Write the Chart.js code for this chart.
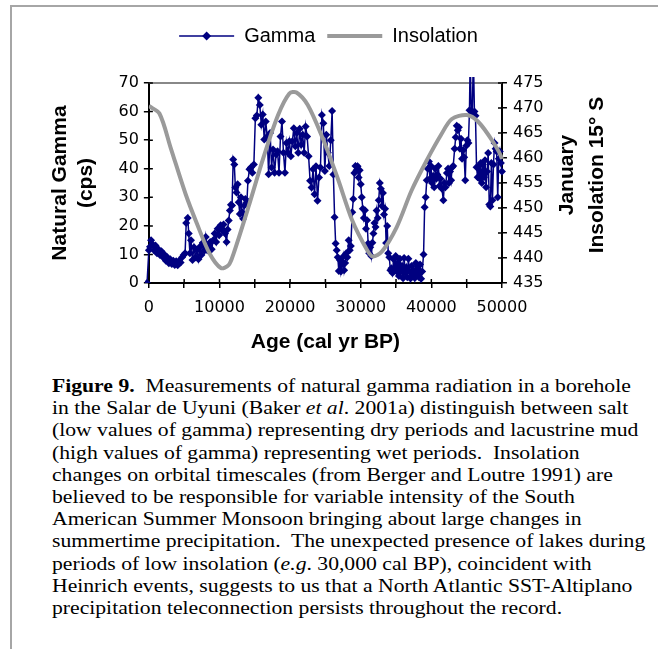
<!DOCTYPE html>
<html>
<head>
<meta charset="utf-8">
<title>Figure 9</title>
<script src="https://cdn.jsdelivr.net/npm/chart.js@4.4.1/dist/chart.umd.min.js"></script>
<style>
  html, body { margin: 0; padding: 0; background: #fff; }
  body { width: 658px; height: 649px; position: relative; overflow: hidden; }
  #frame { position: absolute; left: 10px; top: 5px; width: 660px; height: 660px;
           border-top: 2px solid #a6a6a6; border-left: 2px solid #a6a6a6; }
  #chartBox { position: absolute; left: 0; top: 0; width: 658px; height: 365px; }
  #caption { position: absolute; left: 52px; top: 375px; font-family: "Liberation Serif", "Times New Roman", serif;
             font-size: 19px; line-height: 22.2px; color: #000; white-space: nowrap;
             transform: scaleX(1.14); transform-origin: 0 0; }
</style>
</head>
<body>
<div id="frame"></div>
<div id="chartBox"><canvas id="gammaChart" width="658" height="365"></canvas></div>
<div id="caption">
  <b>Figure 9.</b>&nbsp; Measurements of natural gamma radiation in a borehole<br>
  in the Salar de Uyuni (Baker <i>et al</i>. 2001a) distinguish between salt<br>
  (low values of gamma) representing dry periods and lacustrine mud<br>
  (high values of gamma) representing wet periods.&nbsp; Insolation<br>
  changes on orbital timescales (from Berger and Loutre 1991) are<br>
  believed to be responsible for variable intensity of the South<br>
  American Summer Monsoon bringing about large changes in<br>
  summertime precipitation.&nbsp; The unexpected presence of lakes during<br>
  periods of low insolation (<i>e.g</i>. 30,000 cal BP), coincident with<br>
  Heinrich events, suggests to us that a North Atlantic SST-Altiplano<br>
  precipitation teleconnection persists throughout the record.
</div>
<script>
// data
const gammaAge = [
  -260, 0, 160, 310, 520, 730, 940, 1150, 1360, 1570, 1780, 1990, 2200, 2410, 2620, 2830, 3040, 3250, 3460, 3670,
  3870, 4080, 4290, 4500, 4710, 4920, 5130, 5290, 5500, 5650, 5810, 5970, 6180, 6390, 6600, 6810, 7020, 7230, 7440, 7640,
  7850, 8060, 8270, 8480, 8690, 8900, 9110, 9320, 9530, 9740, 9950, 10160, 10370, 10580, 10790, 11000, 11150, 11310, 11470, 11620,
  11780, 11940, 12100, 12250, 12410, 12570, 12720, 12880, 13040, 13190, 13350, 13510, 13670, 13880, 14030, 14240, 14450, 14660, 14870, 15080,
  15290, 15500, 15710, 15920, 16130, 16340, 16550, 16760, 16960, 17170, 17380, 17590, 17800, 18010, 18220, 18430, 18640, 18850, 19060, 19270,
  19480, 19690, 19900, 20110, 20320, 20530, 20740, 20940, 21150, 21360, 21570, 21780, 21990, 22200, 22410, 22620, 22830, 23040, 23250, 23460,
  23670, 23880, 24090, 24300, 24500, 24710, 24920, 25130, 25340, 25550, 25760, 25950, 26130, 26300, 26450, 26600, 26750, 26900, 27050, 27200,
  27350, 27500, 27650, 27800, 27950, 28100, 28300, 28450, 28600, 28800, 28950, 29100, 29250, 29400, 29550, 29700, 29850, 30000, 30150, 30300,
  30450, 30600, 30750, 30900, 31050, 31200, 31350, 31500, 31650, 31800, 31950, 32100, 32250, 32400, 32550, 32700, 32850, 33000, 33150, 33300,
  33450, 33600, 33750, 33900, 34050, 34200, 34350, 34500, 34650, 34800, 34950, 35100, 35250, 35400, 35550, 35700, 35850, 36000, 36150, 36300,
  36450, 36600, 36750, 36900, 37050, 37200, 37350, 37500, 37650, 37800, 37950, 38100, 38250, 38400, 38550, 38700, 38900, 39050, 39200, 39350,
  39500, 39650, 39800, 39950, 40100, 40250, 40400, 40550, 40700, 40850, 41000, 41150, 41300, 41500, 41700, 41850, 42000, 42200, 42350, 42500,
  42650, 42800, 42950, 43100, 43300, 43450, 43600, 43750, 43900, 44050, 44200, 44350, 44500, 44650, 44800, 44950, 45100, 45250, 45400, 45500,
  45650, 45800, 45950, 46100, 46250, 46400, 46550, 46700, 46850, 47000, 47150, 47300, 47450, 47600, 47750, 47900, 48050, 48200, 48350, 48500,
  48650, 48800, 48950, 49100, 49250, 49400, 49550, 49700, 49850, 50000, 50200, 50400
];
const gammaCps = [
  0, 11.5, 12.7, 15.0, 13.6, 11.5, 13.1, 10.4, 11.8, 9.8, 11.1, 9.0, 10.0, 7.8, 9.0, 6.9, 8.3, 6.7, 7.8, 6.3,
  7.6, 6.2, 7.8, 7.2, 9.0, 9.8, 10.4, 21.0, 22.8, 17.3, 10.4, 15.0, 8.1, 12.5, 9.0, 11.5, 8.3, 12.7, 9.8, 14.1,
  11.3, 16.1, 11.5, 13.1, 14.4, 11.8, 15.0, 17.3, 14.4, 19.0, 16.7, 20.2, 18.5, 20.5, 17.3, 14.4, 18.7, 21.9, 25.4, 27.4,
  27.1, 43.2, 41.5, 33.4, 31.7, 34.6, 28.3, 24.2, 30.0, 24.8, 22.5, 27.1, 29.4, 28.3, 35.8, 39.8, 40.4, 38.6, 41.5, 57.7,
  58.6, 64.8, 62.3, 55.4, 59.0, 50.2, 56.5, 51.3, 38.1, 52.5, 40.4, 46.7, 38.6, 45.0, 46.1, 38.6, 51.3, 56.5, 45.6, 38.6,
  49.0, 45.6, 49.6, 44.4, 49.6, 54.2, 47.9, 52.5, 45.6, 54.0, 48.4, 51.9, 45.6, 54.8, 51.3, 44.4, 35.8, 33.4, 39.8, 31.1,
  40.9, 28.8, 36.9, 40.4, 58.8, 55.9, 39.2, 51.9, 45.6, 41.0, 50.0, 60.2, 38.0, 23.0, 13.8, 11.5, 9.0, 4.2, 8.1, 4.0,
  6.5, 9.2, 4.5, 7.0, 10.4, 9.0, 15.0, 11.5, 13.0, 24.8, 29.4, 38.5, 41.0, 39.5, 40.9, 36.9, 39.5, 34.6, 30.0, 26.0,
  22.8, 25.5, 19.0, 22.0, 13.8, 10.4, 12.5, 9.5, 14.1, 17.3, 21.0, 19.6, 25.4, 22.8, 29.0, 35.0, 33.0, 27.0, 31.5, 24.0,
  26.0, 14.0, 20.0, 10.4, 9.0, 4.5, 5.2, 3.5, 8.3, 5.0, 9.5, 4.0, 7.0, 2.5, 8.5, 4.0, 6.0, 1.7, 8.8, 3.5,
  5.5, 2.0, 8.5, 4.0, 1.6, 6.0, 2.5, 4.5, 1.8, 7.0, 3.0, 5.8, 2.0, 6.5, 1.5, 4.0, 10.0, 26.5, 30.0, 36.0,
  40.0, 42.5, 36.5, 41.0, 35.0, 37.5, 33.5, 40.0, 36.5, 38.0, 41.0, 34.0, 36.5, 33.0, 29.0, 35.0, 33.5, 38.5, 40.0, 35.0,
  39.0, 36.0, 40.5, 41.0, 47.0, 51.0, 55.0, 53.5, 54.5, 47.0, 50.5, 43.5, 46.5, 44.0, 36.0, 48.0, 50.0, 49.0, 60.5, 79.0,
  60.0, 59.0, 80.0, 60.0, 58.5, 40.5, 37.0, 41.0, 36.5, 42.0, 35.0, 41.5, 37.0, 43.0, 33.5, 39.0, 45.5, 27.5, 26.8, 42.0,
  29.0, 41.5, 49.0, 47.0, 46.0, 30.0, 43.5, 46.0, 42.0, 39.0, 36.0, 32.0
];
const insolationAge = [0, 1500, 3100, 5200, 6800, 8600, 10200, 11300, 12000, 14100, 16200, 18300, 19900, 20900, 22500,
  24600, 26700, 28800, 30900, 31700, 33000, 35100, 37200, 39300, 41400, 42900, 45000, 46600, 48700, 50000, 50800];
const insolationWm2 = [470.4, 468.9, 462.0, 452.8, 446.9, 440.9, 438.0, 438.6, 440.9, 450.2, 460.0, 468.6, 472.9, 473.1, 470.6,
  464.0, 456.1, 447.5, 441.6, 440.3, 441.3, 446.2, 453.5, 459.4, 464.7, 467.8, 468.6, 467.3, 463.3, 459.8, 452.5];

const seriesNames = ['Gamma', 'Insolation'];
const leftTitle = ['Natural Gamma', '(cps)'];
const rightTitle = ['January', 'Insolation 15\u00b0 S'];
const bottomTitle = 'Age (cal yr BP)';

const NAVY = '#000080';
const GREY = '#9a9a9a';
const AXIS_FONT = '"DejaVu Sans", sans-serif';
const TITLE_FONT = '"Liberation Sans", Arial, sans-serif';

function diamond(ctx, x, y, r) {
    ctx.beginPath();
    ctx.moveTo(x, y - r);
    ctx.lineTo(x + r, y);
    ctx.lineTo(x, y + r);
    ctx.lineTo(x - r, y);
    ctx.closePath();
    ctx.fill();
}

// push plot area down below the legend
const legendSpacer = {
    id: 'legendSpacer',
    beforeInit(chart) {
        const fit = chart.legend.fit;
        chart.legend.fit = function () {
            fit.call(this);
            this.height += 27;
        };
    }
};

// grey top frame + inward tick stubs
const axisExtras = {
    id: 'axisExtras',
    beforeDatasetsDraw(chart) {
        const { ctx, chartArea: a, scales } = chart;
        ctx.save();
        ctx.strokeStyle = '#888';
        ctx.lineWidth = 2;
        ctx.beginPath();
        ctx.moveTo(a.left, a.top);
        ctx.lineTo(a.right, a.top);
        ctx.stroke();

        ctx.strokeStyle = '#000';
        ctx.lineWidth = 1.5;
        ctx.beginPath();
        scales.x.ticks.forEach(t => {
            const px = scales.x.getPixelForValue(t.value);
            ctx.moveTo(px, a.bottom);
            ctx.lineTo(px, a.bottom - 4);
        });
        scales.y.ticks.forEach(t => {
            const py = scales.y.getPixelForValue(t.value);
            ctx.moveTo(a.left, py);
            ctx.lineTo(a.left + 4, py);
        });
        scales.y1.ticks.forEach(t => {
            const py = scales.y1.getPixelForValue(t.value);
            ctx.moveTo(a.right, py);
            ctx.lineTo(a.right - 4, py);
        });
        ctx.stroke();
        ctx.restore();
    },
    afterDraw(chart) {
        const { ctx, chartArea: a, legend } = chart;
        ctx.save();
        // legend samples: line with diamond, thick grey line
        legend.legendHitBoxes.forEach((box, i) => {
            const item = legend.legendItems[i];
            const y = box.top + box.height / 2;
            const w = legend.options.labels.boxWidth;
            ctx.beginPath();
            ctx.moveTo(box.left, y);
            ctx.lineTo(box.left + w, y);
            if (item.datasetIndex === 0) {
                ctx.strokeStyle = NAVY;
                ctx.lineWidth = 1.5;
                ctx.stroke();
                ctx.fillStyle = NAVY;
                diamond(ctx, box.left + w / 2, y, 4.5);
            } else {
                ctx.strokeStyle = GREY;
                ctx.lineWidth = 4;
                ctx.stroke();
            }
        });
        // right axis title, reading bottom to top
        const cy = (a.top + a.bottom) / 2 - 8;
        ctx.fillStyle = '#000';
        ctx.font = 'bold 21px ' + TITLE_FONT;
        ctx.textAlign = 'center';
        ctx.textBaseline = 'middle';
        [567, 597].forEach((x, i) => {
            ctx.save();
            ctx.translate(x, cy);
            ctx.rotate(-Math.PI / 2);
            ctx.fillText(rightTitle[i], 0, 0);
            ctx.restore();
        });
        ctx.restore();
    }
};

const gammaPoints = gammaAge.map((x, i) => ({ x: x, y: gammaCps[i] }));
const insolationPoints = insolationAge.map((x, i) => ({ x: x, y: insolationWm2[i] }));

const tickFont = { family: AXIS_FONT, size: 16 };
const titleFont = { family: TITLE_FONT, size: 21, weight: 'bold', lineHeight: 1.25 };

new Chart(document.getElementById('gammaChart'), {
    type: 'line',
    data: {
        datasets: [{
            label: seriesNames[0],
            data: gammaPoints,
            yAxisID: 'y',
            borderColor: NAVY,
            backgroundColor: NAVY,
            borderWidth: 1.5,
            pointStyle: 'rectRot',
            pointRadius: 4,
            pointBorderWidth: 0,
            pointBackgroundColor: NAVY,
            tension: 0,
            order: 1,
            clip: { left: 4, top: 6, right: 8, bottom: 0 }
        }, {
            label: seriesNames[1],
            data: insolationPoints,
            yAxisID: 'y1',
            borderColor: GREY,
            backgroundColor: GREY,
            borderWidth: 4,
            pointRadius: 0,
            tension: 0.3,
            order: 0,
            clip: { left: 0, top: 0, right: 8, bottom: 0 }
        }]
    },
    options: {
        responsive: false,
        animation: false,
        layout: { padding: { top: 14, left: 43, right: 44, bottom: 0 } },
        plugins: {
            tooltip: { enabled: false },
            legend: {
                position: 'top',
                labels: {
                    boxWidth: 55,
                    boxHeight: 4,
                    padding: 12,
                    color: '#000',
                    font: { family: TITLE_FONT, size: 20 },
                    sort: (a, b) => a.datasetIndex - b.datasetIndex,
                    generateLabels(chart) {
                        return Chart.defaults.plugins.legend.labels.generateLabels(chart).map(item =>
                            Object.assign(item, { fillStyle: 'rgba(0,0,0,0)', strokeStyle: 'rgba(0,0,0,0)', lineWidth: 0 }));
                    }
                }
            }
        },
        scales: {
            x: {
                type: 'linear',
                min: 0,
                max: 50000,
                border: { color: '#000', width: 2 },
                grid: { drawOnChartArea: false, color: '#000', lineWidth: 1.5, tickLength: 5 },
                ticks: {
                    stepSize: 5000,
                    autoSkip: false,
                    maxRotation: 0,
                    padding: 10,
                    color: '#000',
                    font: tickFont,
                    callback: v => (v % 10000 === 0 ? String(v) : '')
                },
                title: { display: true, text: bottomTitle, color: '#000', font: titleFont, padding: { top: 1.5, bottom: 10 } }
            },
            y: {
                position: 'left',
                min: 0,
                max: 70,
                border: { color: '#000', width: 2 },
                grid: { drawOnChartArea: false, color: '#000', lineWidth: 1.5, tickLength: 5 },
                ticks: { stepSize: 10, padding: 5, color: '#000', font: tickFont },
                title: { display: true, text: leftTitle, color: '#000', font: titleFont, padding: { top: 4, bottom: 14 } }
            },
            y1: {
                position: 'right',
                min: 435,
                max: 475,
                border: { color: '#000', width: 2 },
                grid: { drawOnChartArea: false, color: '#000', lineWidth: 1.5, tickLength: 5 },
                ticks: { stepSize: 5, padding: 6, color: '#000', font: tickFont },
                // space is kept here, the text itself is drawn by axisExtras
                title: { display: true, text: rightTitle, color: 'rgba(0,0,0,0)', font: titleFont, padding: { top: 4, bottom: 8 } }
            }
        }
    },
    plugins: [legendSpacer, axisExtras]
});
</script>
</body>
</html>
